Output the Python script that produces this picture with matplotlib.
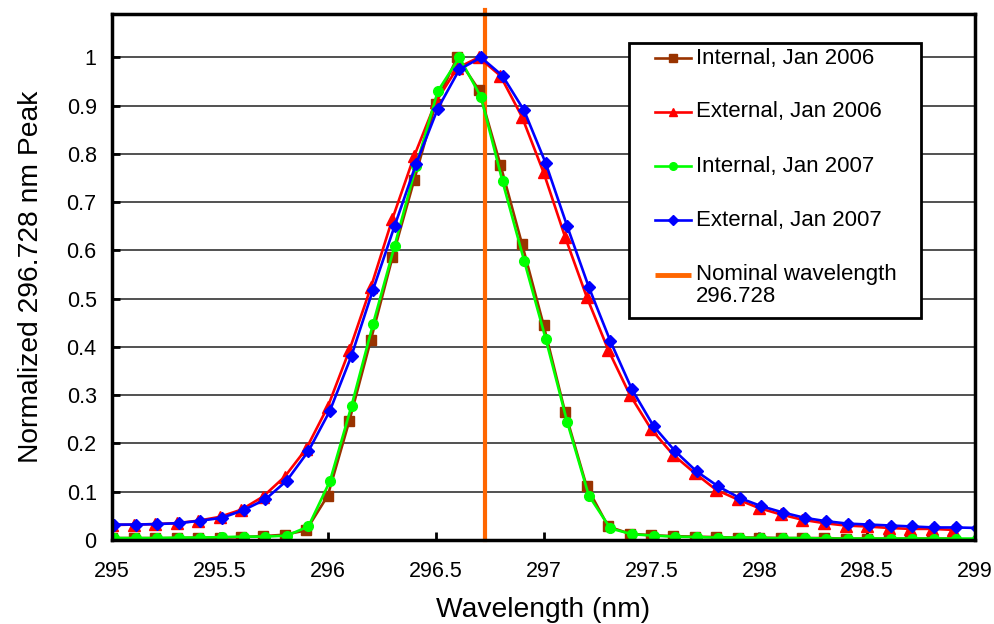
import numpy as np
import matplotlib
matplotlib.use("Agg")
import matplotlib.pyplot as plt
from matplotlib.patches import Rectangle
from matplotlib.ticker import FormatStrFormatter, MultipleLocator

plt.rcParams['font.family'] = ['Liberation Sans', 'DejaVu Sans']

# wavelength grids (2007 scans sit 0.01 nm to the right)
wl_2006 = np.round(np.arange(295.0, 298.95, 0.1), 2)
wl_2007 = np.round(np.arange(295.01, 299.02, 0.1), 2)

internal_2006 = [0.004, 0.004, 0.004, 0.004, 0.005, 0.005, 0.006, 0.008, 0.011, 0.020,
                 0.092, 0.247, 0.415, 0.586, 0.745, 0.904, 1.000, 0.933, 0.778, 0.614,
                 0.446, 0.265, 0.111, 0.028, 0.013, 0.010, 0.008, 0.007, 0.006, 0.005,
                 0.005, 0.004, 0.004, 0.004, 0.003, 0.003, 0.003, 0.003, 0.003, 0.003]
external_2006 = [0.031, 0.032, 0.033, 0.035, 0.040, 0.048, 0.063, 0.090, 0.131, 0.189,
                 0.276, 0.393, 0.524, 0.666, 0.795, 0.907, 0.978, 1.000, 0.962, 0.877,
                 0.762, 0.628, 0.504, 0.394, 0.301, 0.229, 0.177, 0.139, 0.104, 0.084,
                 0.066, 0.053, 0.042, 0.035, 0.030, 0.028, 0.025, 0.023, 0.023, 0.021]
internal_2007 = [0.004, 0.004, 0.004, 0.005, 0.005, 0.006, 0.007, 0.007, 0.009, 0.028,
                 0.122, 0.278, 0.448, 0.610, 0.776, 0.930, 1.000, 0.918, 0.743, 0.579,
                 0.417, 0.244, 0.092, 0.024, 0.012, 0.009, 0.007, 0.006, 0.005, 0.005,
                 0.004, 0.004, 0.004, 0.003, 0.003, 0.003, 0.003, 0.003, 0.003, 0.003,
                 0.003]
external_2007 = [0.032, 0.032, 0.033, 0.035, 0.040, 0.046, 0.062, 0.084, 0.123, 0.184,
                 0.268, 0.382, 0.519, 0.651, 0.780, 0.894, 0.975, 1.000, 0.962, 0.890,
                 0.781, 0.650, 0.524, 0.412, 0.312, 0.236, 0.184, 0.142, 0.111, 0.087,
                 0.070, 0.057, 0.046, 0.039, 0.034, 0.032, 0.030, 0.028, 0.026, 0.026,
                 0.025]
nominal_wl = 296.728

labels = ["Internal, Jan 2006", "External, Jan 2006", "Internal, Jan 2007",
          "External, Jan 2007", "Nominal wavelength\n296.728"]

series = [
    (wl_2006, internal_2006, '#993300', 's', 7),
    (wl_2006, external_2006, '#ff0000', '^', 8),
    (wl_2007, internal_2007, '#00ff00', 'o', 7),
    (wl_2007, external_2007, '#0000ff', 'D', 6),
]
orange = '#ff6600'

fig = plt.figure(figsize=(9.94, 6.24), dpi=100)
ax = fig.add_axes([0.1127, 0.1346, 0.8682, 0.843])

# nominal wavelength line (under the curves, pokes a little above the frame)
ax.plot([nominal_wl, nominal_wl], [0, 1.098], color=orange, lw=3, clip_on=False, zorder=2)

for x, y, c, m, ms in series:
    ax.plot(x, y, color=c, lw=1.9, marker=m, ms=ms, mec=c, mfc=c, zorder=3)

ax.set_xlim(295, 299)
ax.set_ylim(0, 1.09)
ax.xaxis.set_major_locator(MultipleLocator(0.5))
ax.xaxis.set_major_formatter(FormatStrFormatter('%g'))
ax.yaxis.set_major_formatter(FormatStrFormatter('%g'))
ax.set_yticks(np.round(np.arange(0, 1.05, 0.1), 1))
ax.tick_params(direction='in', length=6, width=2, labelsize=15.5)
ax.tick_params(axis='x', pad=15)
ax.tick_params(axis='y', pad=11)
ax.grid(axis='y', color='#222222', lw=1.1)
ax.set_axisbelow(True)
for s in ax.spines.values():
    s.set_linewidth(2.5)
    s.set_zorder(4)

ax.set_xlabel("Wavelength (nm)", fontsize=20.3, labelpad=11)
ax.set_ylabel("Normalized 296.728 nm Peak", fontsize=20.3, labelpad=16)

# hand-made legend box so the two-line entry keeps its line on the first row
lx0, lx1, ly0, ly1 = 0.599, 0.9375, 0.422, 0.9454
ax.add_patch(Rectangle((lx0, ly0), lx1 - lx0, ly1 - ly0, transform=ax.transAxes,
                       facecolor='white', edgecolor='black', lw=2, zorder=5))
h0, h1, tx = 0.629, 0.671, 0.677
rows = [0.9154, 0.814, 0.7106, 0.6080, 0.5034]
colors = [s[2] for s in series] + [orange]
marks = [s[3] for s in series] + [None]
for lab, yy, c, m in zip(labels, rows, colors, marks):
    if m is None:
        ax.plot([h0, h1], [yy, yy], color=c, lw=3.5, transform=ax.transAxes,
                zorder=6, solid_capstyle='butt')
        ax.text(tx, yy + 0.021, lab, transform=ax.transAxes, fontsize=16, va='top',
                ha='left', zorder=7, linespacing=1.05)
    else:
        ax.plot([h0, h1], [yy, yy], color=c, lw=1.9, transform=ax.transAxes, zorder=6)
        ax.plot([(h0 + h1) / 2], [yy], color=c, marker=m, ms=5.5, ls='none',
                transform=ax.transAxes, zorder=7)
        ax.text(tx, yy, lab, transform=ax.transAxes, fontsize=16, va='center',
                ha='left', zorder=7)

fig.savefig("out.png", dpi=100)
